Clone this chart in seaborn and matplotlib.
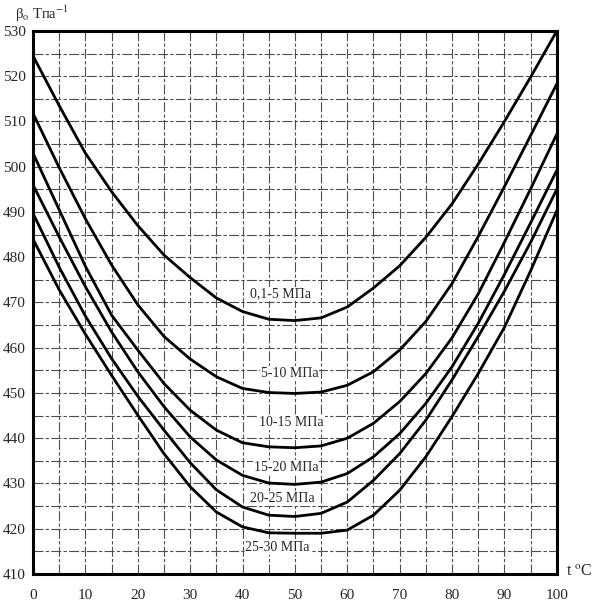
import pandas as pd
import matplotlib
matplotlib.use("Agg")
import matplotlib.pyplot as plt
import seaborn as sns

# temperature, deg C
t = [0, 5, 10, 15, 20, 25, 30, 35, 40, 45, 50,
     55, 60, 65, 70, 75, 80, 85, 90, 95, 100]

# beta_o, 1/TPa, one list per pressure range
beta_01_5 = [524.5, 513.5, 503.0, 494.5, 487.0, 480.5, 475.5, 471.0, 468.0, 466.3, 466.0,
             466.6, 469.0, 473.2, 478.1, 484.4, 491.8, 500.6, 510.0, 519.8, 530.0]
beta_5_10 = [511.8, 499.8, 488.5, 478.3, 469.5, 462.5, 457.5, 453.6, 451.0, 450.1, 449.9,
             450.2, 451.7, 454.7, 459.5, 465.8, 474.2, 484.6, 495.6, 506.9, 518.3]
beta_10_15 = [503.0, 490.5, 478.0, 467.2, 459.5, 452.1, 446.2, 441.8, 439.0, 438.1, 437.9,
              438.3, 440.0, 443.3, 448.1, 454.3, 462.2, 471.9, 483.3, 495.1, 507.2]
beta_15_20 = [496.0, 484.5, 473.5, 463.5, 454.7, 447.0, 440.3, 435.2, 431.8, 430.1, 429.8,
              430.3, 432.2, 435.9, 441.0, 447.7, 455.8, 465.4, 476.2, 487.6, 499.2]
beta_20_25 = [489.7, 477.8, 467.0, 457.6, 449.3, 441.8, 434.6, 428.6, 424.8, 423.0, 422.7,
              423.4, 425.9, 430.7, 436.6, 444.0, 452.9, 462.5, 472.5, 483.3, 495.0]
beta_25_30 = [484.0, 472.8, 463.0, 453.9, 445.1, 436.6, 429.3, 423.7, 420.4, 419.1, 419.0,
              419.0, 419.7, 423.0, 428.5, 435.9, 444.8, 454.3, 464.5, 477.0, 490.3]

series_names = ["0,1-5 МПа", "5-10 МПа", "10-15 МПа",
                "15-20 МПа", "20-25 МПа", "25-30 МПа"]
series_values = [beta_01_5, beta_5_10, beta_10_15,
                 beta_15_20, beta_20_25, beta_25_30]

# where the curve names sit (t, beta)
label_t = [47.3, 49.0, 49.4, 48.3, 47.6, 46.7]
label_beta = [471.9, 454.4, 443.5, 433.5, 426.6, 415.9]

x_ticks = list(range(0, 101, 10))
y_ticks = list(range(410, 531, 10))

rows = []
for name, vals in zip(series_names, series_values):
    for ti, bi in zip(t, vals):
        rows.append({"t": ti, "beta": bi, "p": name})
df = pd.DataFrame(rows)

sns.set_style("white")
plt.rcParams["font.family"] = ["Liberation Serif", "DejaVu Serif"]
plt.rcParams["mathtext.fontset"] = "stix"

fig = plt.figure(figsize=(6, 6.04), dpi=100)
ax = fig.add_axes([0.055, 0.0497, 0.873, 0.899])

# grid every 5 units
for gx in range(5, 100, 5):
    ax.axvline(gx, color="0.3", lw=0.8, ls=(0, (9, 2, 3, 2)), zorder=1)
for gy in range(415, 530, 5):
    ax.axhline(gy, color="0.3", lw=0.8, ls=(0, (9, 2, 3, 2)), zorder=1)

sns.lineplot(data=df, x="t", y="beta", hue="p", palette=["black"] * 6,
             lw=2.0, legend=False, ax=ax, zorder=3)

for name, lx, ly in zip(series_names, label_t, label_beta):
    ax.text(lx, ly, name, fontsize=10, ha="center", va="center", zorder=4,
            bbox=dict(facecolor="white", edgecolor="none", pad=0.6))

ax.set_xlim(0, 100)
ax.set_ylim(410, 530)
ax.set_xticks(x_ticks)
ax.set_yticks(y_ticks)
ax.set_xlabel("")
ax.set_ylabel("")
ax.tick_params(axis="both", direction="out", length=3, width=1.8,
               labelsize=11, color="black", pad=2)
ax.tick_params(axis="x", pad=8)
for s in ax.spines.values():
    s.set_visible(True)
    s.set_color("black")
    s.set_linewidth(2.2)

fig.text(0.025, 0.968, r"β$_{\mathrm{o}}$ Тпа$^{\mathrm{-1}}$", fontsize=10.5,
         ha="left", va="baseline")
fig.text(0.943, 0.048, r"t $^{\mathrm{o}}$C", fontsize=11.5, ha="left", va="baseline")

fig.savefig("out.png", dpi=100)
